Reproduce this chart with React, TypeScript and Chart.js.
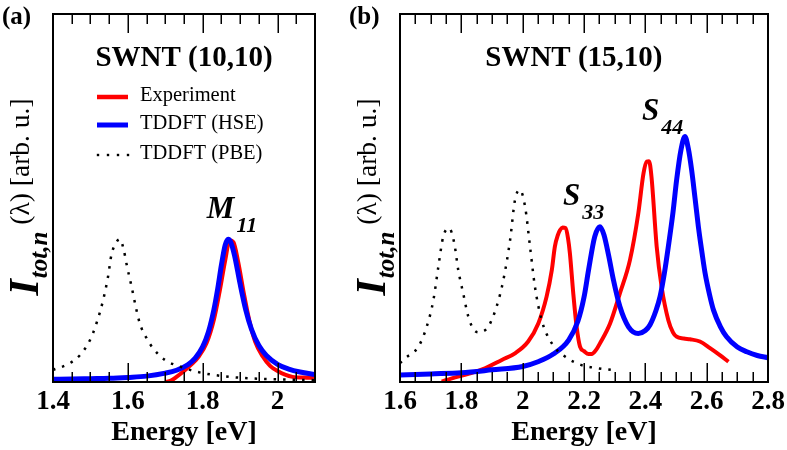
import React, { useEffect, useRef } from 'react';
import { Chart, registerables } from 'chart.js';

Chart.register(...registerables);

const SERIF = '"Liberation Serif", "Times New Roman", "DejaVu Serif", serif';

// ---------- Panel (a): SWNT (10,10) ----------
const aExpE = [1.70, 1.715, 1.73, 1.75, 1.77, 1.79, 1.81, 1.83, 1.845, 1.86, 1.872, 1.882, 1.895, 1.91, 1.925, 1.94, 1.96, 1.98, 2.0, 2.02, 2.04, 2.07, 2.10];
const aExpI = [0.0, 0.4, 1.4, 3.0, 4.8, 7.0, 10.5, 17.0, 24.5, 33.0, 38.5, 38.0, 32.5, 24.0, 16.5, 11.0, 7.0, 4.4, 3.0, 2.0, 1.4, 1.2, 1.1];

const aHseE = [1.40, 1.45, 1.50, 1.55, 1.60, 1.65, 1.70, 1.73, 1.76, 1.78, 1.80, 1.815, 1.83, 1.84, 1.85, 1.86, 1.868, 1.875, 1.885, 1.90, 1.915, 1.93, 1.95, 1.97, 2.00, 2.03, 2.06, 2.10];
const aHseI = [0.75, 0.8, 0.9, 1.0, 1.25, 1.6, 2.4, 3.2, 4.7, 6.5, 9.6, 13.5, 19.7, 25.3, 31.8, 37.2, 38.8, 38.0, 34.4, 26.6, 19.6, 14.4, 9.9, 7.2, 4.8, 3.5, 2.7, 2.0];

const aPbeE = [1.40, 1.441, 1.472, 1.499, 1.516, 1.534, 1.547, 1.556, 1.57, 1.579, 1.589, 1.598, 1.61, 1.621, 1.632, 1.65, 1.667, 1.699, 1.739, 1.783, 1.854, 1.925, 2.014, 2.10];
const aPbeI = [3.3, 4.9, 7.3, 11.4, 15.9, 22.3, 28.6, 34.5, 38.1, 38.8, 35.9, 31.3, 25.9, 20.5, 15.9, 11.9, 9.2, 6.0, 4.2, 2.8, 1.6, 1.0, 0.7, 0.5];

const aTickLabels = [1.4, 1.6, 1.8, 2.0];
const aTickMinor = [1.45, 1.5, 1.55, 1.65, 1.7, 1.75, 1.85, 1.9, 1.95, 2.05];
const aTickMajor = [1.6, 1.8, 2.0];

// ---------- Panel (b): SWNT (15,10) ----------
const bExpE = [1.736, 1.769, 1.823, 1.877, 1.932, 1.975, 2.018, 2.051, 2.078, 2.095, 2.105, 2.115, 2.122, 2.13, 2.14, 2.148, 2.154, 2.165, 2.176, 2.187, 2.20, 2.215, 2.225, 2.24, 2.252, 2.285, 2.317, 2.35, 2.377, 2.394, 2.405, 2.412, 2.42, 2.437, 2.453, 2.475, 2.49, 2.502, 2.525, 2.546, 2.578, 2.611, 2.643, 2.671];
const bExpI = [0.1, 1.0, 2.2, 3.7, 6.0, 7.8, 11.0, 15.9, 23.2, 30.4, 36.8, 40.0, 41.3, 42.0, 41.8, 39.0, 35.0, 24.1, 15.0, 9.6, 8.4, 7.6, 7.6, 8.8, 10.5, 15.9, 24.1, 33.2, 45.8, 56.7, 59.9, 60.0, 55.8, 36.8, 25.9, 16.8, 13.5, 12.3, 11.8, 11.6, 11.0, 9.2, 7.3, 5.5];

const bHseE = [1.60, 1.70, 1.80, 1.90, 2.00, 2.05, 2.10, 2.15, 2.18, 2.20, 2.215, 2.235, 2.252, 2.265, 2.28, 2.296, 2.317, 2.345, 2.377, 2.40, 2.415, 2.435, 2.448, 2.462, 2.475, 2.49, 2.502, 2.516, 2.529, 2.54, 2.551, 2.562, 2.573, 2.585, 2.595, 2.61, 2.622, 2.645, 2.665, 2.70, 2.731, 2.765, 2.80];
const bHseI = [1.9, 2.2, 2.5, 3.3, 4.2, 5.5, 7.6, 11.4, 16.5, 23.0, 30.5, 39.5, 42.2, 40.0, 34.5, 27.7, 20.5, 15.0, 13.2, 14.0, 15.5, 19.5, 23.2, 29.5, 36.8, 46.0, 54.9, 63.0, 66.7, 63.5, 57.6, 50.0, 42.2, 35.0, 29.5, 23.5, 19.6, 15.0, 12.3, 9.5, 8.2, 7.2, 6.6];

const bPbeE = [1.60, 1.616, 1.66, 1.687, 1.709, 1.725, 1.741, 1.76, 1.777, 1.79, 1.806, 1.823, 1.84, 1.855, 1.872, 1.888, 1.915, 1.937, 1.959, 1.975, 1.991, 2.008, 2.024, 2.04, 2.062, 2.095, 2.138, 2.192, 2.24, 2.29];
const bPbeI = [5.1, 6.4, 9.6, 15.0, 22.3, 31.3, 39.5, 41.8, 37.7, 30.4, 24.1, 17.7, 14.3, 13.5, 13.8, 15.0, 20.5, 27.7, 38.6, 49.5, 52.2, 47.6, 36.8, 25.9, 16.8, 10.5, 6.9, 4.6, 3.8, 3.3];

const bTickLabels = [1.6, 1.8, 2.0, 2.2, 2.4, 2.6, 2.8];
const bTickMinor = [1.65, 1.7, 1.75, 1.85, 1.9, 1.95, 2.05, 2.1, 2.15, 2.25, 2.3, 2.35, 2.45, 2.5, 2.55, 2.65, 2.7, 2.75];
const bTickMajor = [1.8, 2.0, 2.2, 2.4, 2.6];

const legendLabels = ['Experiment', 'TDDFT (HSE)', 'TDDFT (PBE)'];
const xTitle = 'Energy [eV]';

type Annot = { main: string; sub: string; x: number; y: number };
type Panel = {
  tag: string;
  title: string;
  titleX: number;
  min: number;
  max: number;
  expE: number[]; expI: number[];
  hseE: number[]; hseI: number[];
  pbeE: number[]; pbeI: number[];
  tickLabels: number[];
  tickMinor: number[];
  tickMajor: number[];
  annots: Annot[];
  legend: boolean;
  padLeft: number;
  padRight: number;
  width: number;
  left: number;
};

const panels: Panel[] = [
  {
    tag: '(a)', title: 'SWNT (10,10)', titleX: 1.75, min: 1.4, max: 2.1,
    expE: aExpE, expI: aExpI, hseE: aHseE, hseI: aHseI, pbeE: aPbeE, pbeI: aPbeI,
    tickLabels: aTickLabels, tickMinor: aTickMinor, tickMajor: aTickMajor,
    annots: [{ main: 'M', sub: '11', x: 1.811, y: 44.6 }],
    legend: true, padLeft: 53, padRight: 25, width: 340, left: 0,
  },
  {
    tag: '(b)', title: 'SWNT (15,10)', titleX: 2.167, min: 1.6, max: 2.8,
    expE: bExpE, expI: bExpI, hseE: bHseE, hseI: bHseI, pbeE: bPbeE, pbeI: bPbeI,
    tickLabels: bTickLabels, tickMinor: bTickMinor, tickMajor: bTickMajor,
    annots: [
      { main: 'S', sub: '33', x: 2.1315, y: 48.1 },
      { main: 'S', sub: '44', x: 2.389, y: 71.2 },
    ],
    legend: false, padLeft: 60, padRight: 19, width: 447, left: 340,
  },
];

const zip = (xs: number[], ys: number[]) => xs.map((x, i) => ({ x, y: ys[i] }));

const decorPlugin = {
  id: 'decor',
  afterDatasetsDraw(chart: any, _args: any, opts: any) {
    const p: Panel = opts.panel;
    const ctx: CanvasRenderingContext2D = chart.ctx;
    const { left, right, top, bottom } = chart.chartArea;
    const xs = chart.scales.x;
    const ys = chart.scales.y;
    ctx.save();
    ctx.strokeStyle = '#000';
    ctx.fillStyle = '#000';

    // inside ticks (top and bottom)
    ctx.lineWidth = 1.5;
    const drawTick = (v: number, len: number) => {
      const px = Math.round(xs.getPixelForValue(v)) + 0.25;
      ctx.beginPath();
      ctx.moveTo(px, bottom);
      ctx.lineTo(px, bottom - len);
      ctx.moveTo(px, top);
      ctx.lineTo(px, top + len);
      ctx.stroke();
    };
    p.tickMinor.forEach((v) => drawTick(v, 10));
    p.tickMajor.forEach((v) => drawTick(v, 19));

    // frame
    ctx.lineWidth = 2;
    ctx.strokeRect(left, top, right - left, bottom - top);

    // panel tag
    ctx.textAlign = 'left';
    ctx.textBaseline = 'alphabetic';
    ctx.font = `bold 25px ${SERIF}`;
    ctx.fillText(p.tag, left - 51, 24);

    // title
    ctx.textAlign = 'center';
    ctx.font = `bold 29px ${SERIF}`;
    ctx.fillText(p.title, xs.getPixelForValue(p.titleX), 66);

    // peak annotations
    ctx.textAlign = 'left';
    p.annots.forEach((a) => {
      const ax = xs.getPixelForValue(a.x);
      const ay = ys.getPixelForValue(a.y);
      ctx.font = `italic bold 31px ${SERIF}`;
      ctx.fillText(a.main, ax, ay);
      const w = ctx.measureText(a.main).width;
      ctx.font = `italic bold 22px ${SERIF}`;
      ctx.fillText(a.sub, ax + w + 2, ay + 14);
    });

    // legend
    if (p.legend) {
      const lx0 = 97, lx1 = 128, tx = 140;
      const rows = [97, 125, 155];
      ctx.lineCap = 'butt';
      ctx.strokeStyle = '#ff0000';
      ctx.lineWidth = 4.5;
      ctx.beginPath(); ctx.moveTo(lx0, rows[0]); ctx.lineTo(lx1, rows[0]); ctx.stroke();
      ctx.strokeStyle = '#0000ff';
      ctx.lineWidth = 5;
      ctx.beginPath(); ctx.moveTo(lx0, rows[1]); ctx.lineTo(lx1, rows[1]); ctx.stroke();
      ctx.fillStyle = '#000';
      [98, 108, 118, 128].forEach((dx) => ctx.fillRect(dx - 1.2, rows[2] - 1.2, 2.4, 2.4));
      ctx.font = `20.5px ${SERIF}`;
      ctx.textBaseline = 'middle';
      legendLabels.forEach((t, i) => ctx.fillText(t, tx, rows[i] - 1));
    }

    // y-axis label (rotated)
    ctx.textBaseline = 'alphabetic';
    const parts = [
      { t: 'I', font: `italic bold 42px ${SERIF}`, base: left - 15, gap: 1 },
      { t: 'tot,n', font: `italic bold 25px ${SERIF}`, base: left - 6, gap: 7 },
      { t: '(\u03BB) [arb. u.]', font: `27.5px ${SERIF}`, base: left - 24, gap: 0 },
    ];
    let total = 0;
    const widths = parts.map((pt) => {
      ctx.font = pt.font;
      const w = ctx.measureText(pt.t).width;
      total += w + pt.gap;
      return w;
    });
    const cy = 197;
    ctx.translate(0, cy);
    ctx.rotate(-Math.PI / 2);
    let u = -total / 2;
    parts.forEach((pt, i) => {
      ctx.font = pt.font;
      ctx.fillText(pt.t, u, pt.base);
      u += widths[i] + pt.gap;
    });
    ctx.restore();
  },
};

function PanelChart({ p }: { p: Panel }) {
  const ref = useRef<HTMLCanvasElement | null>(null);
  useEffect(() => {
    if (!ref.current) return;
    const common = { pointRadius: 0, fill: false, cubicInterpolationMode: 'monotone', borderJoinStyle: 'round' };
    const chart = new Chart(ref.current, {
      type: 'line',
      data: {
        datasets: [
          { ...common, label: legendLabels[2], data: zip(p.pbeE, p.pbeI), borderColor: '#000000', borderWidth: 2.5, borderDash: [2.5, 7] },
          { ...common, label: legendLabels[1], data: zip(p.hseE, p.hseI), borderColor: '#0000ff', borderWidth: 5 },
          { ...common, label: legendLabels[0], data: zip(p.expE, p.expI), borderColor: '#ff0000', borderWidth: 4 },
        ],
      } as any,
      options: {
        responsive: false,
        animation: false,
        events: [],
        layout: { padding: { left: p.padLeft, right: p.padRight, top: 14, bottom: 0 } },
        plugins: {
          legend: { display: false },
          tooltip: { enabled: false },
          decor: { panel: p },
        } as any,
        scales: {
          x: {
            type: 'linear',
            min: p.min,
            max: p.max,
            grid: { display: false, drawTicks: false },
            border: { display: false },
            ticks: {
              autoSkip: false,
              maxRotation: 0,
              padding: 4,
              color: '#000',
              font: { family: SERIF, size: 27, weight: 'bold' },
              callback: (v: any) => (Math.abs(v - 2) < 1e-9 ? '2' : Number(v).toFixed(1)),
            },
            afterBuildTicks: (s: any) => {
              s.ticks = p.tickLabels.map((v) => ({ value: v }));
            },
            afterFit: (s: any) => {
              s.height = 68;
              s.paddingLeft = 0;
              s.paddingRight = 0;
            },
            title: {
              display: true,
              text: xTitle,
              color: '#000',
              font: { family: SERIF, size: 28, weight: 'bold' },
              padding: { top: 0, bottom: 0 },
            },
          },
          y: { type: 'linear', min: 0, max: 100, display: false },
        },
      } as any,
      plugins: [decorPlugin],
    });
    const fontSpecs = [
      `bold 27px ${SERIF}`, `27px ${SERIF}`, `italic bold 31px ${SERIF}`, `20px ${SERIF}`,
    ];
    let alive = true;
    if ((document as any).fonts) {
      Promise.all(fontSpecs.map((f) => (document as any).fonts.load(f, 'Energy \u03BB'))).then(() => {
        if (alive) chart.update();
      }).catch(() => {});
    }
    return () => {
      alive = false;
      chart.destroy();
    };
  }, [p]);
  return (
    <canvas
      ref={ref}
      width={p.width}
      height={450}
      style={{ position: 'absolute', left: p.left, top: 0, width: p.width, height: 450 }}
    />
  );
}

export default function App() {
  return (
    <div style={{ position: 'fixed', left: 0, top: 0, width: 787, height: 450, background: '#fff', overflow: 'hidden' }}>
      <div style={{ position: 'absolute', left: -1000, top: -1000, fontFamily: SERIF }}>
        <span style={{ fontWeight: 'bold' }}>Energy</span>
        <span style={{ fontStyle: 'italic', fontWeight: 'bold' }}>M</span>
        <span>Experiment \u03BB</span>
      </div>
      {panels.map((p) => (
        <PanelChart key={p.tag} p={p} />
      ))}
    </div>
  );
}
